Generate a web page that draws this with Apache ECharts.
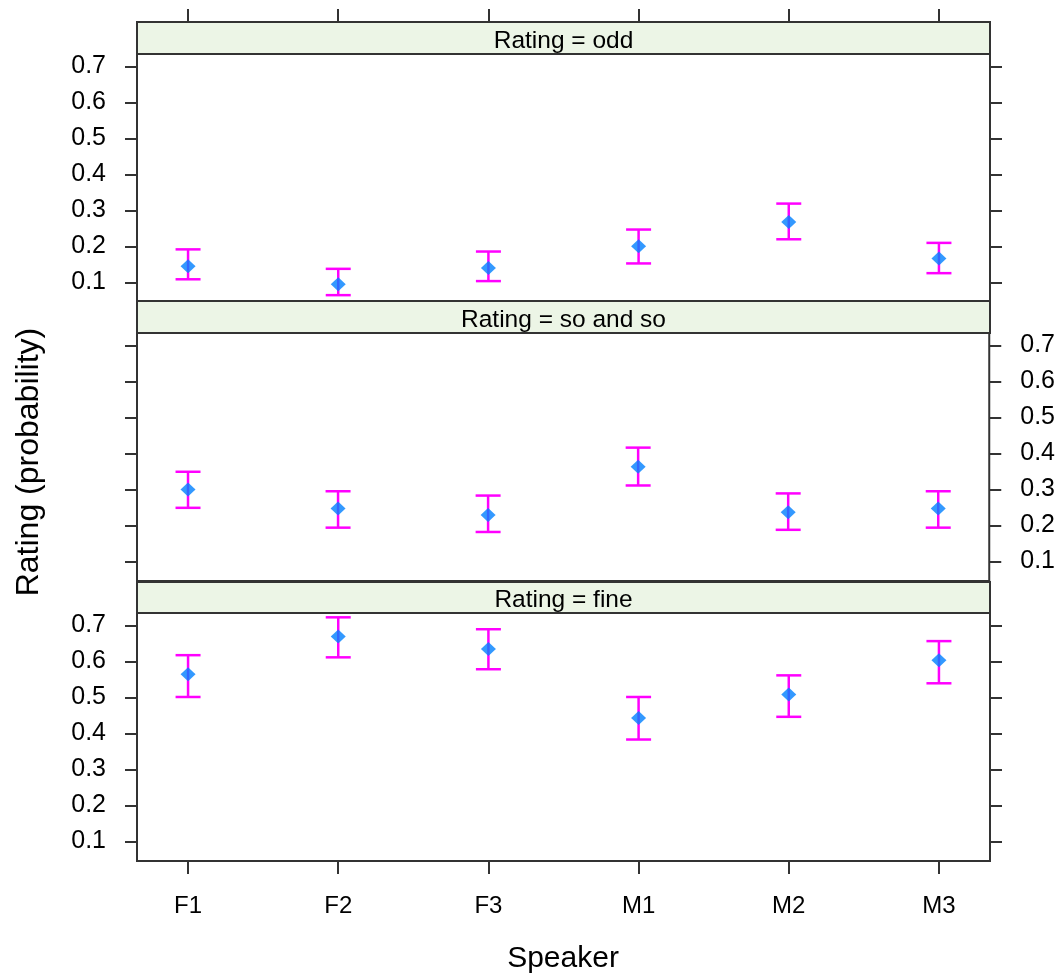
<!DOCTYPE html>
<html>
<head>
<meta charset="utf-8">
<style>
html,body{margin:0;padding:0;background:#fff;}
#chart{width:1058px;height:976px;}
</style>
</head>
<body>
<div id="chart"></div>
<script src="https://cdn.jsdelivr.net/npm/echarts@6/dist/echarts.min.js"></script>
<script>
// data
var speakers = ['F1', 'F2', 'F3', 'M1', 'M2', 'M3'];
var panelNames = ['Rating = odd', 'Rating = so and so', 'Rating = fine'];
var yTicks = [0.1, 0.2, 0.3, 0.4, 0.5, 0.6, 0.7];

var oddMean  = [0.145, 0.095, 0.140, 0.201, 0.268, 0.167];
var oddLower = [0.109, 0.065, 0.104, 0.153, 0.220, 0.126];
var oddUpper = [0.192, 0.138, 0.186, 0.247, 0.319, 0.210];

var soMean  = [0.300, 0.247, 0.229, 0.363, 0.237, 0.247];
var soLower = [0.249, 0.194, 0.182, 0.311, 0.188, 0.194];
var soUpper = [0.349, 0.295, 0.283, 0.416, 0.289, 0.295];

var fineMean  = [0.564, 0.669, 0.634, 0.443, 0.508, 0.603];
var fineLower = [0.501, 0.611, 0.578, 0.383, 0.446, 0.539];
var fineUpper = [0.617, 0.722, 0.689, 0.501, 0.561, 0.656];

var panels = [
  {mean: oddMean, lower: oddLower, upper: oddUpper},
  {mean: soMean, lower: soLower, upper: soUpper},
  {mean: fineMean, lower: fineLower, upper: fineUpper}
];

// layout
var FONT = 'Liberation Sans, Arial, sans-serif';
var LEFT = 137, RIGHT = 990;
var stripTop = [22, 301, 582];
var gridTop = [54, 333, 613];
var gridH = [248, 248, 248];
var yMin = 0.046, yMax = 0.734;
var edge = '#333';

var chart = echarts.init(document.getElementById('chart'));

var grids = [], xAxes = [], yAxes = [], series = [], graphics = [];

panels.forEach(function (p, k) {
  grids.push({
    left: LEFT, width: RIGHT - LEFT, top: gridTop[k], height: gridH[k],
    show: true, borderColor: edge, borderWidth: 2, backgroundColor: '#fff'
  });

  var xa = {
    type: 'value', gridIndex: k, min: 0.66, max: 6.34,
    splitLine: {show: false}, axisLine: {show: false},
    axisTick: {show: false}, axisLabel: {show: false}
  };
  if (k === 0) {
    xa.position = 'top';
    xa.offset = gridTop[0] - stripTop[0];
    xa.axisTick = {show: true, inside: false, length: 13, customValues: [1, 2, 3, 4, 5, 6],
      lineStyle: {color: edge, width: 2}};
  }
  if (k === 2) {
    xa.position = 'bottom';
    xa.axisTick = {show: true, inside: false, length: 13, customValues: [1, 2, 3, 4, 5, 6],
      lineStyle: {color: edge, width: 2}};
    xa.axisLabel = {show: true, customValues: [1, 2, 3, 4, 5, 6], margin: 33,
      color: '#000', fontSize: 24, fontFamily: FONT,
      formatter: function (v) { return speakers[Math.round(v) - 1]; }};
  }
  xAxes.push(xa);

  ['left', 'right'].forEach(function (side) {
    var labelled = (k === 1) ? side === 'right' : side === 'left';
    yAxes.push({
      type: 'value', gridIndex: k, position: side, min: yMin, max: yMax,
      splitLine: {show: false}, axisLine: {show: false},
      axisTick: {show: true, inside: false, length: 12, customValues: yTicks,
        lineStyle: {color: edge, width: 2}},
      axisLabel: {show: labelled, customValues: yTicks, margin: 31,
        color: '#000', fontSize: 25, fontFamily: FONT,
        formatter: function (v) { return v.toFixed(1); }}
    });
  });

  series.push({
    type: 'custom', xAxisIndex: k, yAxisIndex: k * 2,
    data: speakers.map(function (s, i) { return [i + 1, p.lower[i], p.upper[i]]; }),
    encode: {x: 0, y: [1, 2]},
    renderItem: function (params, api) {
      var lo = api.coord([api.value(0), api.value(1)]);
      var hi = api.coord([api.value(0), api.value(2)]);
      var w = 12.5;
      var st = {stroke: '#ff00ff', lineWidth: 2.5};
      return {type: 'group', children: [
        {type: 'line', shape: {x1: lo[0], y1: lo[1], x2: hi[0], y2: hi[1]}, style: st},
        {type: 'line', shape: {x1: lo[0] - w, y1: lo[1], x2: lo[0] + w, y2: lo[1]}, style: st},
        {type: 'line', shape: {x1: hi[0] - w, y1: hi[1], x2: hi[0] + w, y2: hi[1]}, style: st}
      ]};
    },
    z: 2
  });

  series.push({
    type: 'scatter', xAxisIndex: k, yAxisIndex: k * 2,
    data: speakers.map(function (s, i) { return [i + 1, p.mean[i]]; }),
    symbol: 'diamond', symbolSize: [15, 14],
    itemStyle: {color: '#0080ff'},
    z: 3
  });

  var sh = gridTop[k] - stripTop[k];
  graphics.push({
    type: 'rect', z: 10,
    shape: {x: LEFT, y: stripTop[k], width: RIGHT - LEFT, height: sh},
    style: {fill: '#ecf5e6', stroke: edge, lineWidth: 2}
  });
  graphics.push({
    type: 'text', z: 11, x: (LEFT + RIGHT) / 2, y: stripTop[k] + sh / 2 + 3,
    style: {text: panelNames[k], fill: '#000', font: '24.5px ' + FONT,
      textAlign: 'center', textVerticalAlign: 'middle'}
  });
});

graphics.push({
  type: 'text', x: 563, y: 959,
  style: {text: 'Speaker', fill: '#000', font: '30px ' + FONT,
    textAlign: 'center', textVerticalAlign: 'middle'}
});
graphics.push({
  type: 'text', x: 29, y: 462, rotation: Math.PI / 2,
  style: {text: 'Rating (probability)', fill: '#000', font: '32px ' + FONT,
    textAlign: 'center', textVerticalAlign: 'middle'}
});

chart.setOption({
  animation: false,
  backgroundColor: '#fff',
  grid: grids,
  xAxis: xAxes,
  yAxis: yAxes,
  series: series,
  graphic: graphics
});
</script>
</body>
</html>
